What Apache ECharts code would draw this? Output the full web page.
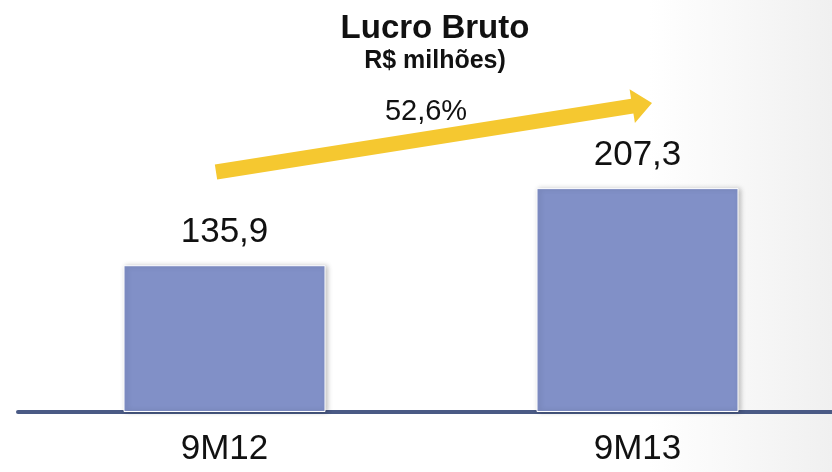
<!DOCTYPE html>
<html>
<head>
<meta charset="utf-8">
<script src="https://cdn.jsdelivr.net/npm/echarts@6/dist/echarts.min.js"></script>
<style>
  html, body { margin: 0; padding: 0; }
  #chart { width: 832px; height: 472px; }
</style>
</head>
<body>
<div id="chart"></div>
<script>
var categories = ['9M12', '9M13'];
var lucroBruto = [135.9, 207.3];
var growthLabel = '52,6%';

var chart = echarts.init(document.getElementById('chart'));

// seta amarela: pontos em pixels (anotação, não dado)
function arrowPoints(x1, y1, x2, y2, half, headHalf, headLen) {
  var dx = x2 - x1, dy = y2 - y1;
  var len = Math.sqrt(dx * dx + dy * dy);
  var ux = dx / len, uy = dy / len;
  var nx = -uy, ny = ux;
  var bx = x2 - ux * headLen, by = y2 - uy * headLen;
  return [
    [x1 + nx * half, y1 + ny * half],
    [bx + nx * half, by + ny * half],
    [bx + nx * headHalf, by + ny * headHalf],
    [x2, y2],
    [bx - nx * headHalf, by - ny * headHalf],
    [bx - nx * half, by - ny * half],
    [x1 - nx * half, y1 - ny * half]
  ];
}

chart.setOption({
  backgroundColor: {
    type: 'linear', x: 0, y: 0, x2: 1, y2: 0,
    colorStops: [
      { offset: 0, color: '#ffffff' },
      { offset: 0.78, color: '#ffffff' },
      { offset: 1, color: '#f0f0f0' }
    ]
  },
  title: {
    text: 'Lucro Bruto',
    subtext: 'R$ milhões)',
    left: 430,
    textAlign: 'center',
    top: 7,
    itemGap: 4,
    textStyle: { fontFamily: 'Liberation Sans', fontSize: 33, fontWeight: 'bold', color: '#111' },
    subtextStyle: { fontFamily: 'Liberation Sans', fontSize: 25, fontWeight: 'bold', color: '#111' }
  },
  grid: { left: 18, width: 826, top: 88, bottom: 60, outerBoundsMode: 'none', containLabel: false },
  xAxis: {
    type: 'category',
    data: categories,
    axisTick: { show: false },
    axisLine: { lineStyle: { color: '#4a5a85', width: 4 } },
    axisLabel: { fontFamily: 'Liberation Sans', fontSize: 35, color: '#111', margin: 20 }
  },
  yAxis: {
    type: 'value',
    min: 0,
    max: 300,
    show: false,
    splitLine: { show: false }
  },
  series: [{
    type: 'bar',
    data: lucroBruto,
    barWidth: 202,
    itemStyle: {
      color: '#8190c7',
      borderColor: '#ffffff',
      borderWidth: 1,
      shadowBlur: 5,
      shadowOffsetX: 2,
      shadowColor: 'rgba(0,0,0,0.25)'
    },
    label: {
      show: true,
      position: 'top',
      distance: 15,
      fontFamily: 'Liberation Sans',
      fontSize: 35,
      color: '#111',
      formatter: function (p) { return String(p.value).replace('.', ','); }
    }
  }],
  graphic: [
    {
      type: 'polygon',
      shape: { points: arrowPoints(216, 172, 652, 103, 7.5, 17, 20) },
      style: { fill: '#f5c830' }
    },
    {
      type: 'text',
      x: 426,
      y: 112,
      style: {
        text: growthLabel,
        font: '29px "Liberation Sans"',
        fill: '#111',
        align: 'center',
        verticalAlign: 'middle'
      }
    }
  ]
});
</script>
</body>
</html>
